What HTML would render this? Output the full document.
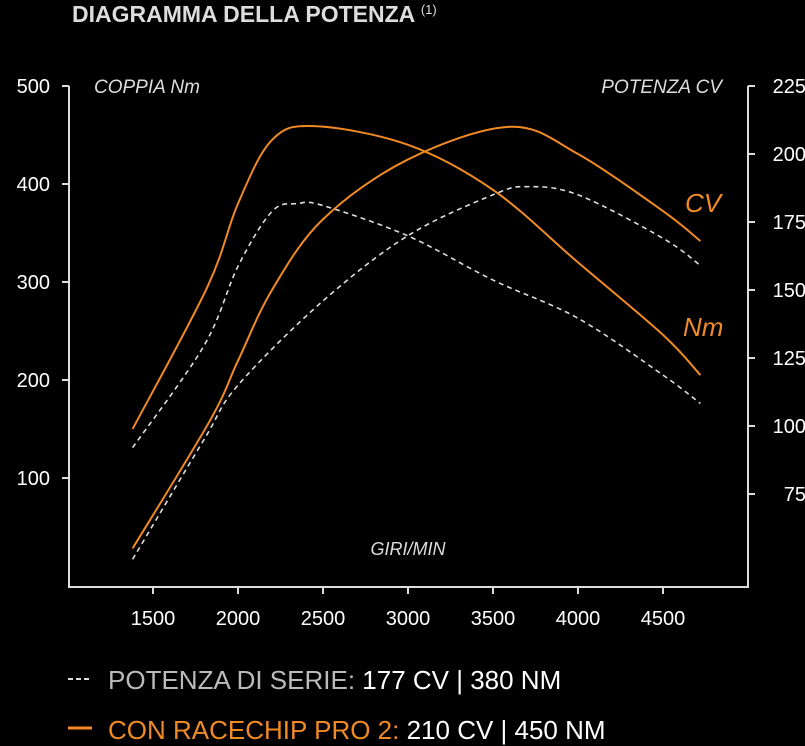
<!DOCTYPE html>
<html><head><meta charset="utf-8"><style>
body{margin:0;background:#000;width:805px;height:746px;overflow:hidden;font-family:"Liberation Sans",sans-serif}
svg{display:block}
</style></head><body>
<svg id="c" width="805" height="746">
<text x="72" y="22" fill="#ddd" font-size="23" font-weight="bold">DIAGRAMMA DELLA POTENZA <tspan font-size="13" dy="-8" font-weight="normal">(1)</tspan></text>
<g id="axes"></g>
<g id="series"></g>
<text x="94" y="93" fill="#ddd" font-size="19" font-style="italic">COPPIA Nm</text>
<text x="722" y="93" fill="#ddd" font-size="19" font-style="italic" text-anchor="end">POTENZA CV</text>
<text x="408" y="555" fill="#ddd" font-size="18" font-style="italic" text-anchor="middle">GIRI/MIN</text>
<text x="685" y="212" fill="#f08a24" font-size="26" font-style="italic">CV</text>
<text x="683" y="336" fill="#f08a24" font-size="26" font-style="italic">Nm</text>
<g font-family="'Liberation Sans Narrow','Liberation Sans',sans-serif" font-size="26">
<line x1="68" y1="679" x2="92" y2="679" stroke="#ddd" stroke-width="2" stroke-dasharray="5,3"/>
<text x="108" y="689" fill="#bbb">POTENZA DI SERIE: <tspan fill="#fff">177 CV | 380 NM</tspan></text>
<line x1="68" y1="728" x2="92" y2="728" stroke="#f08a24" stroke-width="3"/>
<text x="108" y="739" fill="#f08a24">CON RACECHIP PRO 2: <tspan fill="#fff">210 CV | 450 NM</tspan></text>
</g>
</svg>
<script>
const xTicks=[1500,2000,2500,3000,3500,4000,4500];
const nmTicks=[100,200,300,400,500];
const cvTicks=[75,100,125,150,175,200,225];
const rpm=[1380,1820,2000,2200,2450,3000,3500,4000,4500,4720];
const nmPro=[150,295,380,445,459,440,394,320,246,205];
const rpmCvPro=[1380,1835,2000,2200,2500,3000,3600,4000,4500,4720];
const cvPro=[55,102,124,150,176,198,210,200,179,168];
const rpmNmStd=[1380,1800,2000,2200,2350,2500,3000,3500,4000,4500,4720];
const nmStd=[131,235,316,372,380,378,347,302,263,205,176];
const rpmCvStd=[1380,1800,2000,2500,3000,3500,3700,4000,4500,4720];
const cvStd=[51,95,115,146,170,185,188,185,169,159];
const X=r=>153+(r-1500)*0.17;
const YN=v=>576-v*0.98;
const YC=v=>698-v*2.72;
const NS="http://www.w3.org/2000/svg";
function mk(t,a,p){const e=document.createElementNS(NS,t);for(const k in a)e.setAttribute(k,a[k]);p.appendChild(e);return e;}
const ax=document.getElementById('axes');
const axL=mk('path',{d:'M69,86 V587 H748 V86',fill:'none',stroke:'#ddd','stroke-width':2},ax);


nmTicks.forEach(v=>{const y=YN(v);
 const l=mk('line',{x1:62,x2:69,y1:y,y2:y,stroke:'#ddd','stroke-width':2},ax);
 
 
 const t=mk('text',{x:50,y:y+7,fill:'#fff','font-size':20,'text-anchor':'end'},ax);t.textContent=v;
 
 });
cvTicks.forEach(v=>{const y=YC(v);
 const l=mk('line',{x1:748,x2:755,y1:y,y2:y,stroke:'#ddd','stroke-width':2},ax);
 
 
 const t=mk('text',{x:806,y:y+7,fill:'#fff','font-size':20,'text-anchor':'end'},ax);t.textContent=v;
 
 });
xTicks.forEach(v=>{const x=X(v);
 const l=mk('line',{x1:x,x2:x,y1:587,y2:594,stroke:'#ddd','stroke-width':2},ax);
 
 
 const t=mk('text',{x:x,y:625,fill:'#fff','font-size':20,'text-anchor':'middle','font-family':"'Liberation Sans Narrow','Liberation Sans',sans-serif"},ax);t.textContent=v;
 
 });
function smooth(pts){let d='M'+pts[0][0]+','+pts[0][1];
 for(let i=0;i<pts.length-1;i++){const p0=pts[i-1]||pts[i],p1=pts[i],p2=pts[i+1],p3=pts[i+2]||p2;
  d+=` C${p1[0]+(p2[0]-p0[0])/6},${p1[1]+(p2[1]-p0[1])/6} ${p2[0]-(p3[0]-p1[0])/6},${p2[1]-(p3[1]-p1[1])/6} ${p2[0]},${p2[1]}`;}
 return d;}
const sg=document.getElementById('series');
function line(xs,ys,Y,col,dash,name){
 const p=mk('path',{d:smooth(xs.map((r,i)=>[X(r),Y(ys[i])])),fill:'none',stroke:col,'stroke-width':dash?1.6:2},sg);
 if(dash)p.setAttribute('stroke-dasharray','5,4');
 
 }
line(rpmNmStd,nmStd,YN,'#ddd',true,'torque-standard-line');
line(rpmCvStd,cvStd,YC,'#ddd',true,'power-standard-line');
line(rpm,nmPro,YN,'#f08a24',false,'torque-racechip-line');
line(rpmCvPro,cvPro,YC,'#f08a24',false,'power-racechip-line');
</script>
</body></html>
